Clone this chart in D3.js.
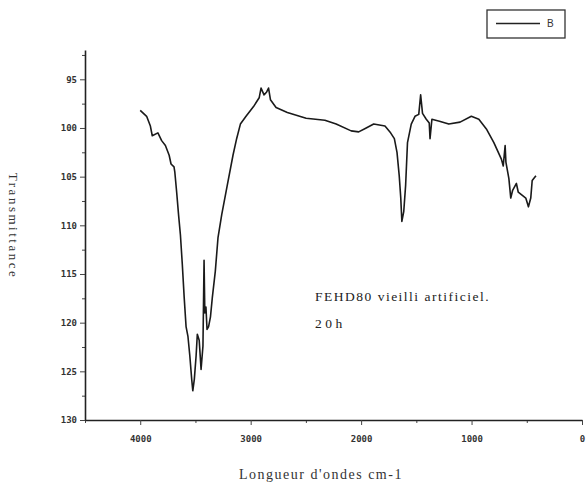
<!DOCTYPE html>
<html>
<head>
<meta charset="utf-8">
<script src="https://cdn.jsdelivr.net/npm/d3@7"></script>
<style>
  body { margin: 0; background: #fff; }
  svg { display: block; }
</style>
</head>
<body>
<div id="chart"></div>
<script>
// spectrum
var wavenumber = [4000, 3942, 3908, 3891, 3840, 3806, 3772, 3738, 3721, 3694, 3687, 3670, 3653, 3636, 3619, 3602,
  3585, 3568, 3551, 3534, 3524, 3510, 3494, 3483, 3466, 3449, 3432, 3422, 3415, 3405, 3395, 3381, 3364, 3347,
  3320, 3296, 3262, 3212, 3160, 3127, 3093, 3042, 2974, 2923, 2906, 2879, 2855, 2838, 2821, 2770, 2668, 2498,
  2328, 2226, 2090, 2022, 1954, 1886, 1784, 1733, 1699, 1675, 1655, 1641, 1631, 1614, 1597, 1580, 1546, 1512,
  1478, 1461, 1444, 1410, 1383, 1376, 1359, 1291, 1206, 1104, 1002, 934, 866, 798, 730, 713, 696, 689, 662,
  645, 628, 594, 577, 543, 509, 485, 464, 451, 417];
var transmittance = [98.2, 98.8, 99.8, 100.8, 100.5, 101.3, 101.8, 102.8, 103.7, 104.0, 104.5, 106.6, 108.9, 111.0, 114.0, 117.4,
  120.4, 121.4, 123.4, 125.8, 127.0, 125.8, 123.4, 121.2, 121.8, 124.8, 122.4, 113.6, 119.0, 118.4, 120.7, 120.4, 119.4, 117.4,
  114.7, 111.3, 108.9, 105.9, 102.8, 101.1, 99.6, 98.8, 97.8, 96.9, 95.9, 96.6, 96.3, 95.9, 97.1, 97.9, 98.4, 99.0,
  99.2, 99.6, 100.3, 100.4, 100.0, 99.6, 99.8, 100.5, 101.1, 102.5, 104.9, 107.2, 109.6, 108.6, 105.9, 101.5, 99.6, 98.8,
  98.6, 96.6, 98.5, 99.1, 99.5, 101.1, 99.1, 99.3, 99.6, 99.4, 98.8, 99.1, 100.1, 101.5, 103.2, 103.9, 101.8, 103.5, 105.2,
  107.2, 106.4, 105.7, 106.6, 106.9, 107.2, 108.1, 107.2, 105.4, 104.9];

var xTicks = [4000, 3000, 2000, 1000, 0];
var xMinor = [4500, 3500, 2500, 1500, 500];
var yTicks = [95, 100, 105, 110, 115, 120, 125, 130];
var yMinor = [92.5, 97.5, 102.5, 107.5, 112.5, 117.5, 122.5, 127.5];

var width = 586, height = 485;

var svg = d3.select('#chart').append('svg')
  .attr('width', width)
  .attr('height', height);

var x = d3.scaleLinear().domain([4500, 0]).range([85, 582]);
var y = d3.scaleLinear().domain([92, 130]).range([50.1, 420]);

// minor ticks first, no labels
svg.append('g')
  .attr('transform', 'translate(0,420)')
  .call(d3.axisBottom(x).tickValues(xMinor).tickSize(3).tickFormat(''))
  .call(function (g) { g.select('.domain').remove(); });

svg.append('g')
  .attr('transform', 'translate(85,0)')
  .call(d3.axisLeft(y).tickValues(yMinor).tickSize(3).tickFormat(''))
  .call(function (g) { g.select('.domain').remove(); });

var xAxis = svg.append('g')
  .attr('transform', 'translate(0,420)')
  .call(d3.axisBottom(x).tickValues(xTicks).tickSize(5).tickSizeOuter(0).tickFormat(d3.format('d')));

var yAxis = svg.append('g')
  .attr('transform', 'translate(85,0)')
  .call(d3.axisLeft(y).tickValues(yTicks).tickSize(5).tickSizeOuter(0).tickFormat(d3.format('d')));

svg.selectAll('.domain').attr('stroke', '#222').attr('stroke-width', 1.6);
svg.selectAll('.tick line').attr('stroke', '#444').attr('stroke-width', 1);
svg.selectAll('.tick text')
  .attr('font-family', 'DejaVu Sans Mono, monospace')
  .attr('font-size', '9px')
  .attr('font-weight', 'bold')
  .attr('fill', '#333');
xAxis.selectAll('.tick text').attr('dy', '1.5em');

// spectrum
var points = wavenumber.map(function (w, i) { return [w, transmittance[i]]; });
svg.append('path')
  .datum(points)
  .attr('fill', 'none')
  .attr('stroke', '#1a1a1a')
  .attr('stroke-width', 1.6)
  .attr('stroke-linejoin', 'round')
  .attr('d', d3.line()
    .x(function (d) { return x(d[0]); })
    .y(function (d) { return y(d[1]); }));

// axis titles
svg.append('text')
  .attr('transform', 'translate(9,226) rotate(90)')
  .attr('text-anchor', 'middle')
  .attr('font-family', 'Liberation Serif, serif')
  .attr('font-size', '13px')
  .attr('letter-spacing', '2.5px')
  .attr('fill', '#333')
  .text('Transmittance');

svg.append('text')
  .attr('x', 321)
  .attr('y', 479)
  .attr('text-anchor', 'middle')
  .attr('font-family', 'Liberation Serif, serif')
  .attr('font-size', '14px')
  .attr('letter-spacing', '1.5px')
  .attr('fill', '#333')
  .text("Longueur d'ondes cm-1");

// annotation
svg.append('text')
  .attr('x', 315)
  .attr('y', 301)
  .attr('font-family', 'Liberation Serif, serif')
  .attr('font-size', '13.5px')
  .attr('letter-spacing', '1.5px')
  .attr('fill', '#222')
  .text('FEHD80 vieilli artificiel.');

svg.append('text')
  .attr('x', 315)
  .attr('y', 328)
  .attr('font-family', 'Liberation Serif, serif')
  .attr('font-size', '13.5px')
  .attr('letter-spacing', '3.5px')
  .attr('fill', '#222')
  .text('20h');

// legend
var legend = svg.append('g');
legend.append('rect')
  .attr('x', 487).attr('y', 10)
  .attr('width', 78).attr('height', 28)
  .attr('fill', '#fff')
  .attr('stroke', '#333')
  .attr('stroke-width', 1.3);
legend.append('line')
  .attr('x1', 496).attr('x2', 540)
  .attr('y1', 23.5).attr('y2', 23.5)
  .attr('stroke', '#222')
  .attr('stroke-width', 1.3);
legend.append('text')
  .attr('x', 547).attr('y', 27)
  .attr('font-family', 'Liberation Sans, sans-serif')
  .attr('font-size', '10px')
  .attr('fill', '#333')
  .text('B');
</script>
</body>
</html>
